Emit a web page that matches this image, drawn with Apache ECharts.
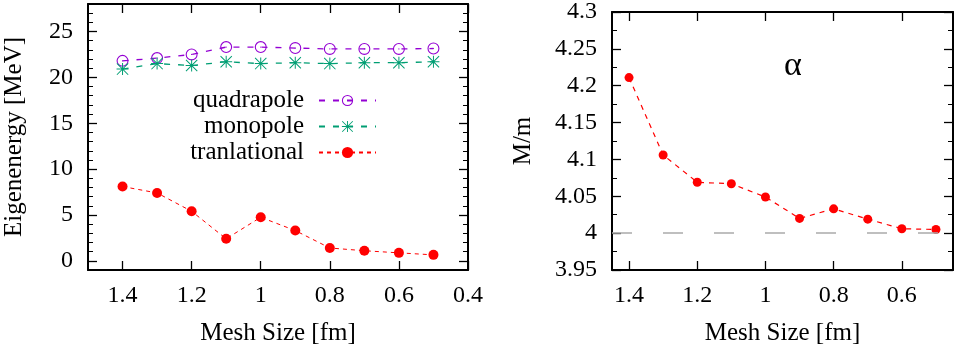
<!DOCTYPE html>
<html>
<head>
<meta charset="utf-8">
<script src="https://cdn.jsdelivr.net/npm/echarts@6/dist/echarts.min.js"></script>
<style>
  html, body { margin: 0; padding: 0; background: #fff; }
  #chart { width: 957px; height: 351px; }
</style>
</head>
<body>
<div id="chart"></div>
<script>
// mesh sizes (fm), same for both panels
let meshSize = [1.4, 1.3, 1.2, 1.1, 1.0, 0.9, 0.8, 0.7, 0.6, 0.5];

// left panel: eigenenergies [MeV]
let quadrapole = [21.8, 22.1, 22.5, 23.3, 23.3, 23.2, 23.1, 23.1, 23.1, 23.15];
let monopole = [20.9, 21.5, 21.3, 21.7, 21.5, 21.6, 21.5, 21.6, 21.6, 21.7];
let tranlational = [8.1, 7.4, 5.4, 2.4, 4.75, 3.3, 1.4, 1.1, 0.87, 0.65];

// right panel: M/m for alpha
let massRatio = [4.211, 4.106, 4.069, 4.067, 4.049, 4.020, 4.033, 4.019, 4.006, 4.005];

// tick labels
let leftXTicks = [1.4, 1.2, 1, 0.8, 0.6, 0.4];
let leftYTicks = [0, 5, 10, 15, 20, 25];
let rightXTicks = [1.4, 1.2, 1, 0.8, 0.6];
let rightYTicks = [3.95, 4, 4.05, 4.1, 4.15, 4.2, 4.25, 4.3];

var font = 'Liberation Serif';

function pairs(vals) {
  return meshSize.map(function (x, i) { return [x, vals[i]]; });
}

// gnuplot style frame axis: inward ticks, thick border
function frameAxis(grid, pos, min, max, ticks, labels, inverse, margin) {
  return {
    type: 'value',
    gridIndex: grid,
    position: pos,
    min: min,
    max: max,
    inverse: !!inverse,
    axisLine: { show: true, onZero: false, lineStyle: { color: '#000', width: 2 } },
    axisTick: { show: true, inside: true, length: 9, customValues: ticks, lineStyle: { color: '#000', width: 1.3 } },
    axisLabel: { show: labels, customValues: ticks, color: '#000', fontFamily: font, fontSize: 24, margin: margin || 12 },
    splitLine: { show: false }
  };
}

function minorAxis(grid, pos, min, max, step) {
  return {
    type: 'value',
    gridIndex: grid,
    position: pos,
    min: min,
    max: max,
    interval: step,
    axisLine: { show: false, onZero: false },
    axisTick: { show: true, inside: true, length: 5, lineStyle: { color: '#000', width: 1 } },
    axisLabel: { show: false },
    splitLine: { show: false }
  };
}

var nameStyle = { fontFamily: font, fontSize: 25, color: '#000' };

var ringSymbol = 'path://M0,12a12,12 0 1,0 24,0a12,12 0 1,0 -24,0zM2.2,12a9.8,9.8 0 1,1 19.6,0a9.8,9.8 0 1,1 -19.6,0zM10.8,12a1.2,1.2 0 1,0 2.4,0a1.2,1.2 0 1,0 -2.4,0z';
var starSymbol = 'path://M11,0h2v24h-2zM0,11h24v2h-24zM0,1.4L1.4,0L24,22.6L22.6,24zM22.6,0L24,1.4L1.4,24L0,22.6z';

var xLeft = frameAxis(0, 'bottom', 0.4, 1.5, leftXTicks, true, true, 14);
xLeft.name = 'Mesh Size [fm]';
xLeft.nameLocation = 'middle';
xLeft.nameGap = 51;
xLeft.nameTextStyle = nameStyle;

var yLeft = frameAxis(0, 'left', -1, 28, leftYTicks, true, false, 15);
yLeft.name = 'Eigenenergy [MeV]';
yLeft.nameLocation = 'middle';
yLeft.nameGap = 61;
yLeft.nameTextStyle = nameStyle;

var xRight = frameAxis(1, 'bottom', 0.45, 1.45, rightXTicks, true, true, 14);
xRight.name = 'Mesh Size [fm]';
xRight.nameLocation = 'middle';
xRight.nameGap = 51;
xRight.nameTextStyle = nameStyle;

var yRight = frameAxis(1, 'left', 3.95, 4.3, rightYTicks, true, false, 15);
yRight.name = 'M/m';
yRight.nameLocation = 'middle';
yRight.nameGap = 76;
yRight.nameTextStyle = nameStyle;

let option = {
  animation: false,
  backgroundColor: '#fff',
  grid: [
    { left: 88, top: 4, width: 380, height: 267 },
    { left: 612, top: 12, width: 341, height: 260 }
  ],
  xAxis: [
    xLeft,
    frameAxis(0, 'top', 0.4, 1.5, leftXTicks, false, true),
    xRight,
    frameAxis(1, 'top', 0.45, 1.45, rightXTicks, false, true)
  ],
  yAxis: [
    yLeft,
    frameAxis(0, 'right', -1, 28, leftYTicks, false),
    minorAxis(0, 'left', -1, 28, 1),
    minorAxis(0, 'right', -1, 28, 1),
    yRight,
    frameAxis(1, 'right', 3.95, 4.3, rightYTicks, false),
    minorAxis(1, 'left', 3.95, 4.3, 0.025),
    minorAxis(1, 'right', 3.95, 4.3, 0.025)
  ],
  legend: {
    data: ['quadrapole', 'monopole', 'tranlational'],
    orient: 'vertical',
    align: 'right',
    right: 580,
    top: 88,
    padding: 0,
    itemWidth: 57,
    itemHeight: 14,
    itemGap: 1,
    selectedMode: false,
    textStyle: { fontFamily: font, fontSize: 25, lineHeight: 24, color: '#000', padding: [0, 10, 0, 0] }
  },
  graphic: [
    {
      type: 'text',
      x: 793,
      y: 66,
      style: { text: 'α', fontFamily: font, fontSize: 34, fill: '#000', align: 'center', verticalAlign: 'middle' }
    }
  ],
  series: [
    {
      name: 'quadrapole',
      type: 'line',
      xAxisIndex: 0,
      yAxisIndex: 0,
      data: pairs(quadrapole),
      symbol: ringSymbol,
      symbolSize: 12,
      itemStyle: { color: '#9400d3' },
      lineStyle: { color: '#9400d3', width: 1.3, type: [6, 8] }
    },
    {
      name: 'monopole',
      type: 'line',
      xAxisIndex: 0,
      yAxisIndex: 0,
      data: pairs(monopole),
      symbol: starSymbol,
      symbolSize: 12,
      itemStyle: { color: '#009e73' },
      lineStyle: { color: '#009e73', width: 1.3, type: [6, 8] }
    },
    {
      name: 'tranlational',
      type: 'line',
      xAxisIndex: 0,
      yAxisIndex: 0,
      data: pairs(tranlational),
      symbol: 'circle',
      symbolSize: 10,
      itemStyle: { color: '#ff0000' },
      lineStyle: { color: '#ff0000', width: 1, type: [4, 4] }
    },
    {
      name: 'alpha',
      type: 'line',
      xAxisIndex: 2,
      yAxisIndex: 4,
      data: pairs(massRatio),
      symbol: 'circle',
      symbolSize: 9,
      itemStyle: { color: '#ff0000' },
      lineStyle: { color: '#ff0000', width: 1.2, type: [5, 5] },
      markLine: {
        silent: true,
        symbol: 'none',
        label: { show: false },
        lineStyle: { color: '#aaaaaa', width: 1.5, type: [20, 31] },
        data: [[{ coord: [1.45, 4] }, { coord: [0.45, 4] }]]
      }
    }
  ]
};

var chartDom = document.getElementById('chart');
var chart = echarts.init(chartDom);
chart.setOption(option);
</script>
</body>
</html>
